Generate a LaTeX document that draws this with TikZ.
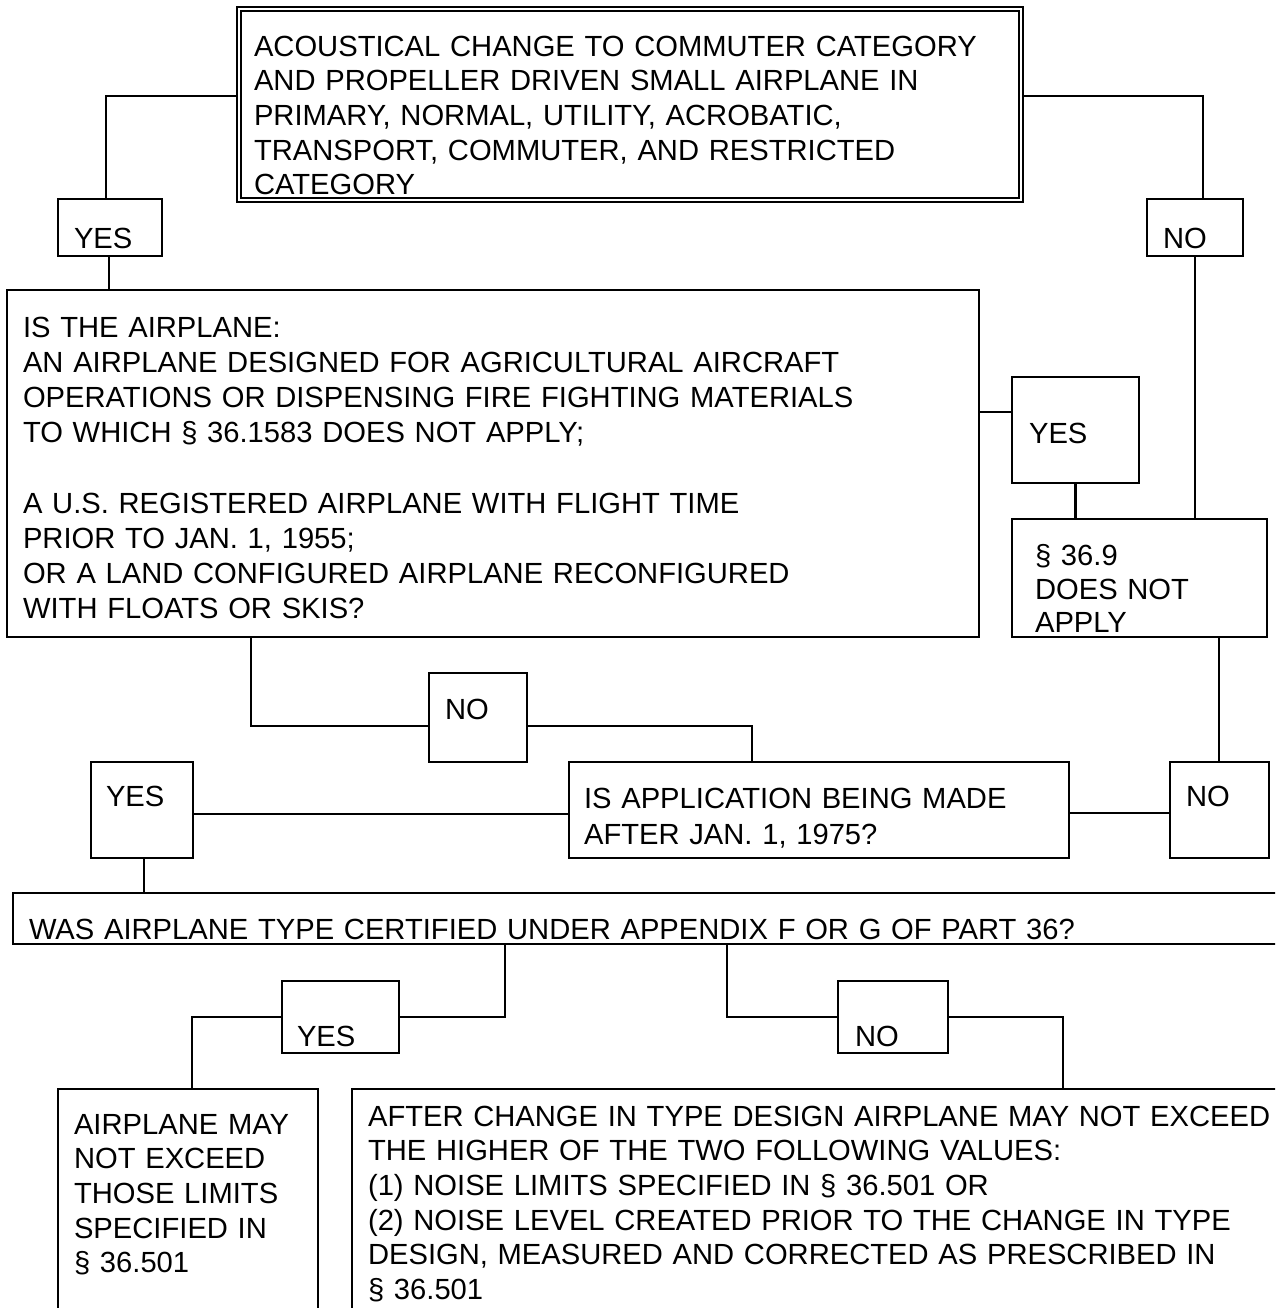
\documentclass[tikz,border=0pt]{standalone}
\usepackage{fontspec}
\setmainfont{Liberation Sans}
\usetikzlibrary{fit}

\begin{document}
\begin{tikzpicture}[x=0.48pt, y=-0.48pt, line width=1pt]
\tikzset{boite/.style={draw, inner sep=0pt}}
\tikzset{texte/.style={anchor=north west, inner sep=0pt, text width=600pt, align=left, font=\fontsize{14}{16.6}\selectfont, execute at begin node=\strut}}
\useasboundingbox (0,0) rectangle (1275,1308);
\clip (0,0) rectangle (1275,1308);
\node[boite, double, double distance=1pt, fit={(239,9) (1021,200)}] (B1) {};
\node[boite, fit={(58,199) (162,256)}] (B2) {};
\node[boite, fit={(1147,199) (1243,256)}] (B3) {};
\node[boite, fit={(7,290) (979,637)}] (B4) {};
\node[boite, fit={(1012,377) (1139,483)}] (B5) {};
\node[boite, fit={(1012,519) (1267,637)}] (B6) {};
\node[boite, fit={(429,673) (527,762)}] (B7) {};
\node[boite, fit={(91,762) (193,858)}] (B8) {};
\node[boite, fit={(569,762) (1069,858)}] (B9) {};
\node[boite, fit={(1170,762) (1269,858)}] (B10) {};
\node[boite, fit={(13,893) (1300,944)}] (B11) {};
\node[boite, fit={(282,981) (399,1053)}] (B12) {};
\node[boite, fit={(838,981) (948,1053)}] (B13) {};
\node[boite, fit={(58,1089) (318,1330)}] (B14) {};
\node[boite, fit={(352,1089) (1300,1330)}] (B15) {};
\node[texte] (T1) at (253,31) {ACOUSTICAL CHANGE TO COMMUTER CATEGORY\\AND PROPELLER DRIVEN SMALL AIRPLANE IN\\PRIMARY, NORMAL, UTILITY, ACROBATIC,\\TRANSPORT, COMMUTER, AND RESTRICTED\\CATEGORY};
\node[texte] (T2) at (73,223) {YES};
\node[texte] (T3) at (1162,223) {NO};
\node[texte, font=\fontsize{14}{16.85}\selectfont] (T4) at (22,312) {IS THE AIRPLANE:\\AN AIRPLANE DESIGNED FOR AGRICULTURAL AIRCRAFT\\OPERATIONS OR DISPENSING FIRE FIGHTING MATERIALS\\TO WHICH § 36.1583 DOES NOT APPLY;\\[16.85pt]A U.S. REGISTERED AIRPLANE WITH FLIGHT TIME\\PRIOR TO JAN. 1, 1955;\\OR A LAND CONFIGURED AIRPLANE RECONFIGURED\\WITH FLOATS OR SKIS?};
\node[texte] (T5) at (1028,418) {YES};
\node[texte, font=\fontsize{14}{16.1}\selectfont] (T6) at (1034,541) {§ 36.9\\DOES NOT\\APPLY};
\node[texte] (T7) at (444,694) {NO};
\node[texte] (T8) at (105,781) {YES};
\node[texte] (T9) at (583,783) {IS APPLICATION BEING MADE\\[1pt]AFTER JAN. 1, 1975?};
\node[texte] (T10) at (1185,781) {NO};
\node[texte] (T11) at (28,914) {WAS AIRPLANE TYPE CERTIFIED UNDER APPENDIX F OR G OF PART 36?};
\node[texte] (T12) at (296,1021) {YES};
\node[texte] (T13) at (854,1021) {NO};
\node[texte] (T14) at (73,1109) {AIRPLANE MAY\\NOT EXCEED\\THOSE LIMITS\\SPECIFIED IN\\§ 36.501};
\node[texte] (T15) at (367,1101) {AFTER CHANGE IN TYPE DESIGN AIRPLANE MAY NOT EXCEED\\THE HIGHER OF THE TWO FOLLOWING VALUES:\\(1) NOISE LIMITS SPECIFIED IN § 36.501 OR\\(2) NOISE LEVEL CREATED PRIOR TO THE CHANGE IN TYPE\\DESIGN, MEASURED AND CORRECTED AS PRESCRIBED IN\\§ 36.501};
\draw (B1.west |- 0,96) -| (B2.north -| 106,0);
\draw (B1.east |- 0,96) -| (B3.north -| 1203,0);
\draw (B2.south -| 109,0) -- (B4.north -| 109,0);
\draw (B3.south) -- (B6.north -| B3.south);
\draw (B4.east |- 0,412) -- (B5.west |- 0,412);
\draw (B5.south) -- (B6.north -| B5.south);
\draw (B6.south -| 1219,0) -- (B10.north -| 1219,0);
\draw (B4.south -| 251,0) |- (B7.west |- 0,726);
\draw (B7.east |- 0,726) -| (B9.north -| 752,0);
\draw (B8.east |- 0,814) -- (B9.west |- 0,814);
\draw (B9.east |- 0,813) -- (B10.west |- 0,813);
\draw (B8.south -| 144,0) -- (B11.north -| 144,0);
\draw (B11.south -| 505,0) |- (B12.east);
\draw (B12.west) -| (B14.north -| 192,0);
\draw (B11.south -| 727,0) |- (B13.west);
\draw (B13.east) -| (B15.north -| 1063,0);
\end{tikzpicture}
\end{document}
